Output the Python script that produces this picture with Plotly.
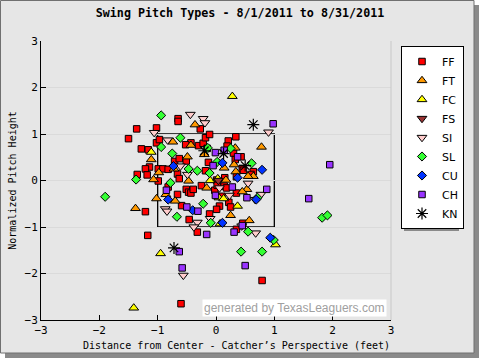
import plotly.graph_objects as go

# ---- data (feet from center, normalized height) ----
FF_x = [-0.65, -0.65, -1.02, -1.36, -1.50, -1.02, -0.97, -1.28, -1.16, -1.14, -1.21, -1.35, -1.18,
        -0.99, -0.91, -0.82, -0.71, -0.63, -0.51, -0.66, -0.63, -0.18, -0.43, -0.52, -0.30, -0.22,
        -0.18, -0.11, -0.15, 0.21, 0.34, 0.19, 0.30, 0.33, 0.43, 0.45, 0.47, -0.13, 0.35, 0.64, 0.60,
        0.01, 0.15, -0.25, 0.14, 0.18, 0.35, 0.10, -0.02, 0.02, 0.22, 0.25, 0.06, 0.01, -0.11, -0.99,
        -0.82, -0.66, -0.59, -0.51, -0.47, -0.43, -0.39, -0.46, -0.32, 0.35, 0.46, -1.17, -0.60, 0.79,
        -1.21, -0.27]
FF_y = [1.33, 1.27, 1.13, 1.11, 0.90, 0.81, 0.88, 0.68, 0.66, 0.29, 0.25, 0.13, 0.12,
        0.25, 0.25, 0.24, 0.41, 0.47, 0.42, 0.14, 0.04, 0.21, 0.81, 0.77, 0.75, 0.80,
        0.92, 0.99, 0.69, 0.85, 0.94, 0.74, 0.59, 0.45, 0.51, 0.26, 0.22, 0.39, 0.08, 0.19, 0.13,
        0.01, 0.06, -0.11, -0.12, -0.16, -0.27, -0.34, -0.21, -0.10, -0.47, -0.57, -0.55, -0.62, -0.72, -0.01,
        -0.14, -0.30, -0.54, -0.19, -0.25, -0.27, -0.19, -0.84, -1.11, -1.05, -0.92, -1.18, -2.65, -2.15,
        -0.67, 1.11]

FT_x = [-0.36, -0.74, -1.11, -1.07, -0.98, -0.49, -0.72, -0.47, -0.43, -0.20, 0.78, 0.33, 0.31,
        0.14, 0.34, 0.64, 0.55, 0.17, -0.16, 0.53, 0.45, 0.25, -1.38, -1.02, -0.86, -0.70, 0.57]
FT_y = [1.20, 0.83, 0.45, 0.02, 0.17, 0.51, 0.25, -0.01, 0.76, 0.56, 0.72, 0.70, 0.34,
        0.27, 0.19, 0.09, 0.09, 0.01, -0.16, -0.19, -0.24, -0.75, -0.60, -0.39, -0.30, -0.44, -0.86]

FC_x = [0.28, -1.11, -0.10, 0.03, 0.05, 0.13, 0.37, 0.07, -0.95, -1.41, 1.02]
FC_y = [1.81, 0.61, 0.00, 0.04, -0.37, -0.39, -0.55, -0.93, -1.57, -2.74, -1.38]

FS_x = [0.04]
FS_y = [0.00]

SI_x = [-0.44, -0.22, -0.19, -1.06, -0.83, 0.90, -0.61, -0.49, 0.55, 0.06, 0.77, 0.67, 0.23,
        -0.87, -0.84, -0.32, -0.38, -0.10, 0.44, 0.68, -0.56]
SI_y = [1.42, 1.33, 1.24, 1.03, 0.87, 1.04, 0.31, 0.13, -0.06, -0.16, -0.30, -0.41, -0.32,
        -0.61, -0.66, -0.90, -1.00, -0.82, -0.98, -1.13, -2.04]

SL_x = [-0.94, -0.61, -0.94, -0.75, -1.37, -0.47, -0.32, -0.14, 0.25, 0.61, 0.02, -0.11, -0.22,
        -1.90, -0.67, -0.09, 0.55, 0.99, 0.43, 0.79, 0.71, 1.82, 1.91, -0.78]
SL_y = [1.40, 0.92, 0.72, 0.58, 0.02, 0.25, 0.21, 0.70, 0.69, 0.37, 0.40, 0.16, -0.50,
        -0.35, -0.78, -0.91, -1.10, -1.28, -1.53, -1.53, -0.37, -0.80, -0.75, -0.05]

CU_x = [-0.73, 0.11, 0.79, 0.37, -0.82, -0.40, 0.11, 0.69, 0.93]
CU_y = [0.31, 0.38, 0.23, 0.06, -0.41, -0.64, -0.91, -0.41, -1.23]

CH_x = [-0.01, 0.98, 0.14, 0.37, -0.05, 0.28, 0.87, 0.53, -0.01, 1.59, 1.95, -0.85, -0.50, -0.31,
        -0.16, 0.31, 0.45, -0.63, -0.58, 0.50]
CH_y = [0.60, 1.22, 0.65, 0.51, 0.32, -0.14, -0.19, -0.37, -0.32, -0.39, 0.34, -0.21, -0.57, -0.66,
        -1.16, -1.11, -0.97, -1.53, -1.88, -1.83]

KN_x = [-0.20, 0.64, 0.13, 0.50, -0.72]
KN_y = [0.64, 1.20, 0.58, 0.32, -1.45]

tick_vals = [-3, -2, -1, 0, 1, 2, 3]
tick_text = ["\u22123", "\u22122", "\u22121", "0", "1", "2", "3"]

series = [
    ("FF", FF_x, FF_y, "square", "#ff0000", 6.5),
    ("FT", FT_x, FT_y, "triangle-up", "#ff9900", 8.5),
    ("FC", FC_x, FC_y, "triangle-up", "#ffff00", 8.5),
    ("FS", FS_x, FS_y, "triangle-down", "#993333", 8.5),
    ("SI", SI_x, SI_y, "triangle-down", "#ffcccc", 8.5),
    ("SL", SL_x, SL_y, "diamond", "#33ff33", 7),
    ("CU", CU_x, CU_y, "diamond", "#0033ff", 7),
    ("CH", CH_x, CH_y, "square", "#9933ff", 6.5),
]

fig = go.Figure()
for name, xs, ys, sym, col, sz in series:
    fig.add_trace(go.Scatter(
        x=xs, y=ys, mode="markers", name=name,
        marker=dict(symbol=sym, color=col, size=sz, line=dict(color="black", width=1)),
    ))
fig.add_trace(go.Scatter(
    x=KN_x, y=KN_y, mode="markers", name="KN",
    marker=dict(symbol="asterisk-open", color="black", size=10, line=dict(color="black", width=1.2)),
))

# frame helpers (paper coords: plot area is 41..391 px wide, 41..320 px tall)
def px(v):
    return (v - 41) / 350.0

def py(v):
    return (320 - v) / 279.0

shapes = [
    dict(type="rect", xref="paper", yref="paper", x0=px(5), x1=px(479), y0=py(358), y1=py(5),
         fillcolor="#8a8a8a", line=dict(width=0), layer="below"),
    dict(type="rect", xref="paper", yref="paper", x0=px(0.5), x1=px(474), y0=py(353), y1=py(0.5),
         fillcolor="#e6e6e6", line=dict(color="#707070", width=1), layer="below"),
    dict(type="line", xref="paper", yref="paper", x0=1, x1=1, y0=0, y1=1,
         line=dict(color="#c8c8c8", width=1)),
    dict(type="rect", xref="x", yref="y", x0=-1, x1=1, y0=-1, y1=1,
         line=dict(color="black", width=1.3), fillcolor="rgba(0,0,0,0)", layer="below"),
    # legend drop shadow
    dict(type="rect", xref="paper", yref="paper", x0=px(404), x1=px(459), y0=py(231), y1=py(49),
         fillcolor="#8a8a8a", line=dict(width=0), layer="below"),
]

fig.update_layout(
    width=480, height=360,
    margin=dict(l=41, r=89, t=41, b=40),
    paper_bgcolor="white",
    plot_bgcolor="white",
    shapes=shapes,
    title=dict(text="<b>Swing Pitch Types - 8/1/2011 to 8/31/2011</b>", x=0.5, xref="container",
               xanchor="center", y=1 - 13 / 360, yanchor="middle",
               font=dict(family="DejaVu Sans Mono", size=11.7, color="black")),
    font=dict(family="DejaVu Sans Mono", size=11, color="black"),
    xaxis=dict(range=[-3, 3], tickvals=tick_vals, ticktext=tick_text, ticks="inside", ticklen=5,
               tickcolor="black", showgrid=False, zeroline=False, showline=True, linecolor="black",
               linewidth=1),
    yaxis=dict(range=[-3, 3], tickvals=tick_vals, ticktext=tick_text, ticks="inside", ticklen=5,
               tickcolor="black", showgrid=True, gridcolor="#dadada", zeroline=False, showline=True,
               linecolor="black", linewidth=1,
               title=dict(text="Normalized Pitch Height",
                          font=dict(family="DejaVu Sans Mono", size=10), standoff=6)),
    legend=dict(x=px(401), y=py(46), xanchor="left", yanchor="top", bgcolor="white",
                bordercolor="black", borderwidth=1, font=dict(family="DejaVu Sans", size=11),
                itemwidth=30, tracegroupgap=0),
    annotations=[
        dict(text="generated by TexasLeaguers.com", xref="paper", yref="paper",
             x=px(387), y=py(308), xanchor="right", yanchor="middle", showarrow=False,
             font=dict(family="Liberation Sans", size=12, color="#a0a0a0"),
             bgcolor="white"),
        dict(text="Distance from Center - Catcher\u2019s Perspective (feet)", xref="paper",
             yref="paper", x=px(236), y=py(345), xanchor="center", yanchor="middle",
             showarrow=False, font=dict(family="DejaVu Sans Mono", size=10, color="black")),
    ],
)

fig.write_html("out.html", config={"displayModeBar": False},
               post_script="document.body.style.margin='0';")
